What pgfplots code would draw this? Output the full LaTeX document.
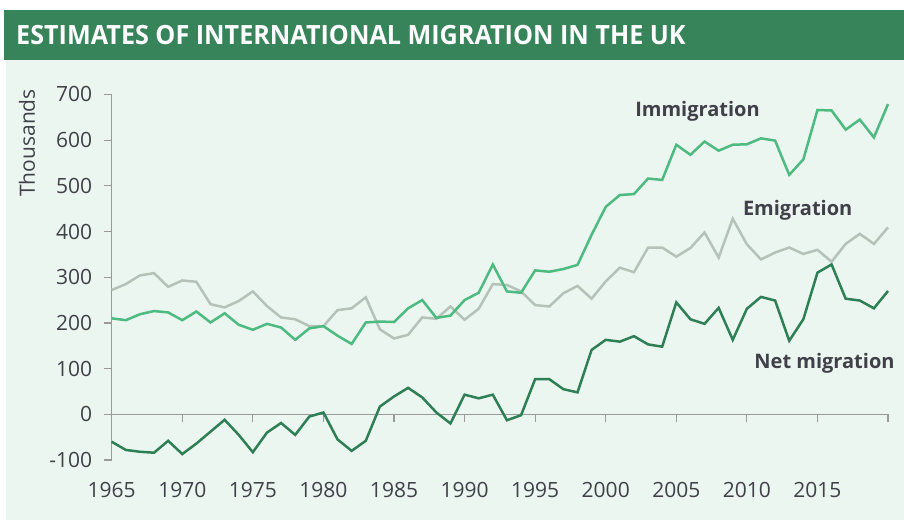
\documentclass[border=0pt]{standalone}
\usepackage{pgfplots}
\pgfplotsset{compat=1.18}
\usepackage{fontspec}
\setmainfont{Open Sans}
\newfontfamily\titlefont[FakeStretch=0.95]{Open Sans}
\definecolor{bargreen}{HTML}{37845A}
\definecolor{mint}{HTML}{EBF6F0}
\definecolor{immcol}{HTML}{4DBA80}
\definecolor{emcol}{HTML}{B4C2B8}
\definecolor{netcol}{HTML}{2F7F55}
\definecolor{axcol}{HTML}{9A9A9A}
\definecolor{txtcol}{HTML}{404048}

% year, immigration, emigration, net migration (thousands)
\pgfplotstableread{
year imm em net
1965 210 272 -60
1966 206 285 -78
1967 219 304 -82
1968 226 309 -84
1969 223 279 -58
1970 206 293 -87
1971 225 290 -64
1972 201 241 -38
1973 221 234 -12
1974 196 248 -45
1975 185 269 -83
1976 198 237 -40
1977 190 212 -19
1978 163 208 -45
1979 188 193 -5
1980 193 193 4
1981 172 228 -55
1982 154 232 -80
1983 201 256 -58
1984 203 186 17
1985 202 166 39
1986 232 174 58
1987 250 212 37
1988 211 209 4
1989 216 236 -20
1990 250 207 43
1991 266 231 35
1992 328 285 43
1993 269 283 -13
1994 266 269 -2
1995 315 239 77
1996 312 236 77
1997 318 265 55
1998 327 281 48
1999 393 253 141
2000 454 291 163
2001 480 321 159
2002 482 311 171
2003 516 365 153
2004 513 365 148
2005 590 345 245
2006 568 364 208
2007 597 398 198
2008 577 343 233
2009 590 428 163
2010 591 372 231
2011 604 339 257
2012 599 354 249
2013 524 365 161
2014 558 351 208
2015 666 360 310
2016 665 334 328
2017 623 373 253
2018 645 395 249
2019 606 373 232
2020 679 409 270
}\migdata

\begin{document}
\begin{tikzpicture}
\useasboundingbox (0,0) rectangle (904bp,524bp);
\fill[white] (0,0) rectangle (904bp,524bp);
\fill[mint] (6bp,4bp) rectangle (904bp,464bp);
\fill[bargreen] (4bp,464bp) rectangle (904bp,514bp);
\node[anchor=west, text=white, inner sep=0pt] at (16bp,489bp)
  {\titlefont\bfseries\fontsize{26.5bp}{30bp}\selectfont ESTIMATES OF INTERNATIONAL MIGRATION IN THE UK};
\node[rotate=90, text=txtcol, inner sep=0pt] at (27bp,381bp)
  {\fontsize{21bp}{24bp}\selectfont Thousands};

\begin{axis}[
  at={(111.7bp,64bp)}, anchor=south west,
  x=14.115bp, y=0.4569bp,
  xmin=1965, xmax=2020, ymin=-100, ymax=700,
  axis y line*=left, axis x line*=middle,
  hide obscured x ticks=false,
  axis line style={axcol, line width=1.2bp},
  tick style={axcol, line width=1.2bp},
  tick align=outside,
  major tick length=8bp,
  xtick={1965,1970,...,2020},
  xticklabels={1965,1970,1975,1980,1985,1990,1995,2000,2005,2010,2015,},
  ytick={-100,0,...,700},
  /pgf/number format/assume math mode=true,
  ticklabel style={text=txtcol, font=\fontsize{21bp}{24bp}\selectfont},
  xticklabel style={anchor=base, yshift=-75bp},
  yticklabel style={anchor=east, xshift=-8bp},
  clip=false,
]
\addplot[emcol, line width=2.5bp] table[x=year, y=em] {\migdata};
\addplot[immcol, line width=2.5bp] table[x=year, y=imm] {\migdata};
\addplot[netcol, line width=2.5bp] table[x=year, y=net] {\migdata};
\node[text=txtcol, font=\bfseries\fontsize{20bp}{24bp}\selectfont] at (axis cs:2006.5,664) {Immigration};
\node[text=txtcol, font=\bfseries\fontsize{20bp}{24bp}\selectfont] at (axis cs:2013.6,447) {Emigration};
\node[text=txtcol, font=\bfseries\fontsize{20bp}{24bp}\selectfont] at (axis cs:2015.5,112) {Net migration};
\end{axis}
\end{tikzpicture}
\end{document}
